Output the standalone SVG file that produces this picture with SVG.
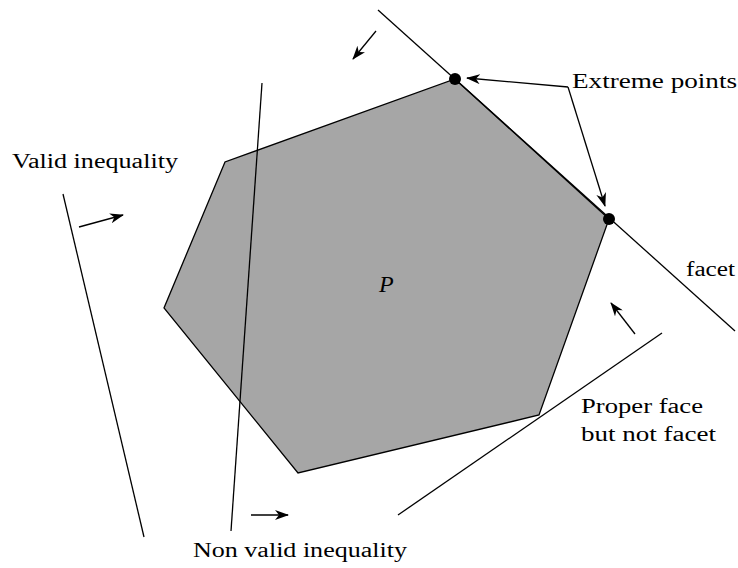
<svg xmlns="http://www.w3.org/2000/svg" width="738" height="568" viewBox="0 0 738 568">
<style>
.ln{stroke:#000;stroke-width:1.3;fill:none}
.ar{stroke:#000;stroke-width:1.3;fill:none;marker-end:url(#ah)}
.t{font-size:20px;fill:#000}
.p{font-size:24px;font-style:italic;fill:#000}
</style>
<defs>
<marker id="ah" markerWidth="14" markerHeight="10" refX="13" refY="5" orient="auto" markerUnits="userSpaceOnUse">
<path d="M0,0 L14,5 L0,10 L4,5 Z" fill="#000"/>
</marker>
</defs>
<rect width="738" height="568" fill="#fff"/>
<g font-family="Liberation Serif, Tinos, Nimbus Roman, FreeSerif, DejaVu Serif, serif">
<g id="polytope">
<polygon points="455,79 609,219 539,415 298,473 164,308 225,162" fill="#a6a6a6" stroke="#000" stroke-width="1.3"/>
<text class="p" x="379" y="292">P</text>
</g>
<g id="connectors">
<line class="ln" x1="378" y1="10" x2="735" y2="331"/>
<line class="ln" x1="63" y1="194" x2="144" y2="537"/>
<line class="ln" x1="262" y1="83" x2="231" y2="531"/>
<line class="ln" x1="398" y1="515" x2="662" y2="333"/>
<line class="ar" x1="376" y1="31" x2="353" y2="59"/>
<line class="ar" x1="79" y1="227" x2="123" y2="215"/>
<line class="ar" x1="251" y1="515" x2="288" y2="515"/>
<line class="ar" x1="635" y1="334" x2="611" y2="303"/>
<line class="ar" x1="568" y1="87" x2="467" y2="78"/>
<line class="ar" x1="568" y1="87" x2="605" y2="206"/>
</g>
<g id="extreme-points">
<circle cx="455" cy="79" r="6"/>
<circle cx="609" cy="219" r="6"/>
<text class="t" x="572" y="88" textLength="165" lengthAdjust="spacingAndGlyphs">Extreme points</text>
</g>
<g id="valid-inequality">
<text class="t" x="12" y="168" textLength="166" lengthAdjust="spacingAndGlyphs">Valid inequality</text>
</g>
<g id="non-valid-inequality">
<text class="t" x="193" y="557" textLength="214" lengthAdjust="spacingAndGlyphs">Non valid inequality</text>
</g>
<g id="facet">
<text class="t" x="686" y="276" textLength="49" lengthAdjust="spacingAndGlyphs">facet</text>
</g>
<g id="proper-face">
<text class="t" x="581" y="413" textLength="122" lengthAdjust="spacingAndGlyphs">Proper face</text>
<text class="t" x="581" y="441" textLength="135" lengthAdjust="spacingAndGlyphs">but not facet</text>
</g>
</g>
</svg>
